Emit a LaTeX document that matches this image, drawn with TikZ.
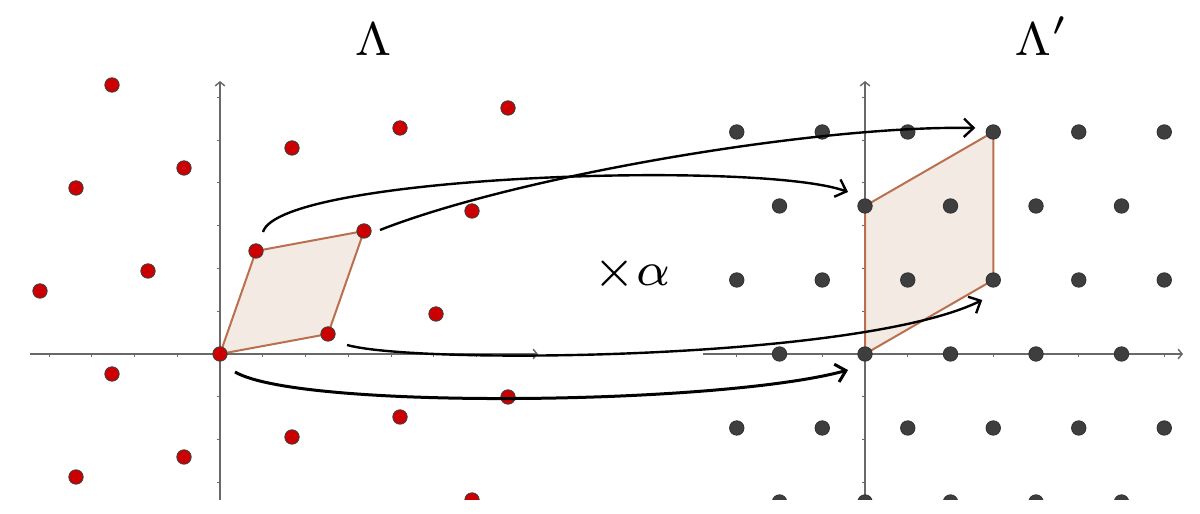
\documentclass[tikz,border=0pt]{standalone}
\usepackage{amsmath}
\usepackage{amssymb}
\usepackage{tikz}
\usetikzlibrary{arrows.meta,calc,backgrounds,positioning}
\definecolor{latred}{RGB}{204,0,0}
\definecolor{latgray}{RGB}{62,62,62}
\definecolor{cellfill}{RGB}{244,234,228}
\definecolor{celledge}{RGB}{186,112,78}
\definecolor{axisgray}{RGB}{105,105,105}
\tikzset{
	lattice map/.style={
		x=.25mm, y=-.25mm,
		axis/.style={draw=axisgray, line width=.36mm, -{Straight Barb[length=1mm,width=2.4mm]}},
		axtick/.style={draw=axisgray, line width=.25mm},
		red pt/.style={circle, draw=black!75, fill=latred, line width=.22mm, inner sep=0pt, minimum size=3.6mm},
		gray pt/.style={circle, draw=black!80, fill=latgray, line width=.22mm, inner sep=0pt, minimum size=3.6mm},
		cell/.style={draw=celledge, fill=cellfill, line width=.5mm, line join=round},
		lift/.style={draw, line width=.6mm, -{Straight Barb[length=2.4mm,width=4.6mm]}},
		lab/.style={inner sep=0pt, font=\scriptsize, scale=4.8, transform shape}
	},
	tick len/.store in=\ticklen,
	tick len=3
}

\begin{document}
\begin{tikzpicture}[lattice map]
   \useasboundingbox (0,0) rectangle (1200,514);
   % Lambda
   \begin{scope}
      \clip (28,75) rectangle (535,500);
      \foreach \a in {-3,...,3} \foreach \b in {-2,...,3}
         \node[red pt] (L\a_\b) at ({220+108*(\a)+36*(\b)},{354-20*(\a)-103*(\b)}) {};
   \end{scope}
   % Lambda'
   \begin{scope}
      \clip (704,75) rectangle (1190,500);
      \foreach \a in {-4,...,5} \foreach \b in {-2,...,4}
         \node[gray pt] (R\a_\b) at ({865+85.5*(\a)+42.75*(\b)},{354-74*(\b)}) {};
   \end{scope}
   \begin{pgfonlayer}{background}
      \draw[axis] (30,354) -- (538,354);
      \draw[axis] (220,500) -- (220,81);
      \foreach \k in {-4,...,7} \draw[axtick] ({220+42.75*(\k)},354) -- ++(0,\ticklen);
      \foreach \k in {-6,...,3} \draw[axtick] (220,{354+42.75*(\k)}) -- ++(-\ticklen,0);
      \draw[axis] (703,354) -- (1183,354);
      \draw[axis] (865,500) -- (865,81);
      \foreach \k in {-3,...,7} \draw[axtick] ({865+42.75*(\k)},354) -- ++(0,\ticklen);
      \foreach \k in {-6,...,3} \draw[axtick] (865,{354+42.75*(\k)}) -- ++(-\ticklen,0);
      \draw[cell] (L0_0.center) -- (L1_0.center) -- (L1_1.center) -- (L0_1.center) -- cycle;
      \draw[cell] (R0_0.center) -- (R1_1.center) -- (R0_3.center) -- (R-1_2.center) -- cycle;
   \end{pgfonlayer}
   \draw[lift] ($(L0_1)+(7,-19)$) .. controls +(17,-57) and +(-88,-32) .. ($(R-1_2)+(-17,-14)$);
   \draw[lift] ($(L1_1)+(16,-1)$) .. controls +(140,-55) and +(-155,-3) .. ($(R0_3)+(-18,-4)$);
   \draw[lift] ($(L1_0)+(19,11)$) .. controls +(73,20) and +(-122,60) .. ($(R1_1)+(-11,20)$);
   \draw[lift, line width=.75mm] ($(L0_0)+(15,18)$) .. controls +(65,38) and +(-128,35) .. ($(R0_0)+(-17,16)$);
   \node[lab, anchor=base] (lam) at (373,56) {$\Lambda$};
   \node[lab, anchor=base west] (lamp) at (1013,56) {$\Lambda'$};
   \node[lab, anchor=base] (mult) at (632,286) {$\times\alpha$};
\end{tikzpicture}
\end{document}
